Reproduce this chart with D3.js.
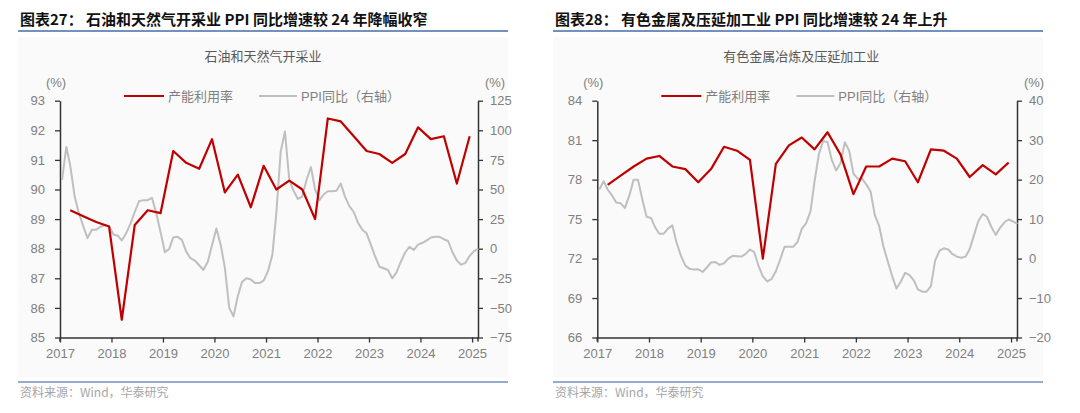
<!DOCTYPE html>
<html>
<head>
<meta charset="utf-8">
<script src="https://cdn.jsdelivr.net/npm/d3@7"></script>
<style>
  body { margin: 0; background: #fff; }
  svg text { font-family: "Liberation Sans", Arial, "Noto Sans CJK SC", sans-serif; }
</style>
</head>
<body>
<svg id="chart" width="1080" height="413"></svg>
<script>
// categories: monthly PPI Jan 2017 - Feb 2025, quarterly utilisation 2017Q1 - 2024Q4
const months = d3.timeMonth.range(new Date(2017, 0, 1), new Date(2025, 2, 1)).map(d => d3.timeDay.offset(d, 14));
const quarters = d3.range(2017, 2025).flatMap(y => [2, 5, 8, 11].map(m => new Date(y, m, 15)));
const yearTicks = d3.range(2017, 2026);

// 石油和天然气开采业
const oilUtil = [
  89.3, 89.1, 88.9, 88.75,
  85.6, 88.8, 89.3, 89.2,
  91.3, 90.9, 90.7, 91.7,
  89.9, 90.5, 89.4, 90.8,
  90.0, 90.3, 90.0, 89.0,
  92.4, 92.3, 91.8, 91.3,
  91.2, 90.9, 91.2, 92.1,
  91.7, 91.8, 90.2, 91.8
];
const oilPPI = [
  58, 86, 70, 44, 30, 19, 9, 16, 16, 18.5, 20, 19,
  12, 11, 7, 13, 21, 31, 40, 41, 41, 43, 30, 14,
  -3, 0, 9.5, 10, 7.5, -2.5, -8, -10, -14, -18, -11, 3,
  17, 3, -16, -50, -57, -40, -28, -25, -26, -29, -29, -27,
  -19, -5, 30, 82, 99, 58, 49, 42, 44, 58, 69, 50,
  41, 46, 48.5, 48.5, 49, 55, 44, 36, 31, 22, 16, 13,
  3, -7, -15, -16.5, -18, -25, -20, -11, -3, 1.5, -1, 3.5,
  5, 7, 9.5, 10, 10, 8, 6.5, -3, -10, -13.5, -12, -6,
  -2, 0
];

// 有色金属冶炼及压延加工业
const metalUtil = [
  77.6, 78.3, 79.0, 79.6,
  79.8, 79.0, 78.8, 77.8,
  78.8, 80.5, 80.2, 79.5,
  72.0, 79.2, 80.6, 81.2,
  80.3, 81.6, 79.9, 76.9,
  79.0, 79.0, 79.6, 79.4,
  77.8, 80.3, 80.2, 79.6,
  78.2, 79.1, 78.4, 79.3
];
const metalPPI = [
  17.5, 19.6, 17.5, 16, 14.2, 14, 12.8, 16, 20, 20, 15, 10.6,
  10.3, 7.8, 6.3, 6.3, 7.6, 8.4, 4, 0.7, -1.8, -2.6, -2.8, -2.7,
  -3.4, -2.2, -1, -0.9, -1.6, -1.2, 0, 0.7, 0.6, 0.5, 1.2, 2.3,
  1.6, -2, -4.5, -5.8, -5.2, -3.2, -0.3, 3, 3, 3, 4.2, 7.5,
  9, 12, 19.5, 26.5, 29.8, 29.5, 25, 22.3, 24.2, 29.5, 27.3, 21.5,
  20.2, 20.2, 18.8, 17, 11, 8.2, 3, -0.8, -4.5, -7.6, -5.8, -3.6,
  -4.2, -5.6, -7.8, -8.4, -8.4, -7, -0.5, 2, 2.6, 2.3, 1.1, 0.5,
  0.2, 0.5, 2.4, 6, 9.5, 11.3, 10.6, 8, 6, 7.8, 9.2, 9.9,
  9.4, 8.8
];

const oilLeftTicks = d3.range(85, 94, 1);
const oilRightTicks = d3.range(-75, 126, 25);
const metalLeftTicks = d3.range(66, 85, 3);
const metalRightTicks = d3.range(-20, 41, 10);

const svg = d3.select('#chart');

const RED = '#c00000';
const GREY = '#bfbfbf';
const LABEL = '#7f7f7f';
const RULE = '#7391bf';

function drawPanel(o) {
  const g = svg.append('g');
  const top = 100.7, bottom = 337.5;

  const x = d3.scaleTime()
    .domain([new Date(2017, 0, 1), new Date(2025, 1, 12)])
    .range([o.left, o.right]);
  const yL = d3.scaleLinear().domain(d3.extent(o.leftTicks)).range([bottom, top]);
  const yR = d3.scaleLinear().domain(d3.extent(o.rightTicks)).range([bottom, top]);

  // light panel
  g.append('rect')
    .attr('x', o.boxL).attr('y', 37)
    .attr('width', 490).attr('height', 340)
    .attr('fill', '#fafafa')

  // Title + rules
  g.append('text')
    .attr('x', o.boxL + 2).attr('y', 25)
    .style('font-family', '"Noto Sans CJK SC", sans-serif')
    .style('font-weight', 700)
    .style('font-size', '15px')
    .attr('fill', '#111')
    .text(o.title)

  g.append('line')
    .attr('x1', o.boxL).attr('x2', o.boxL + 490)
    .attr('y1', 31).attr('y2', 31)
    .attr('stroke', RULE).attr('stroke-width', 2)

  g.append('line')
    .attr('x1', o.boxL).attr('x2', o.boxL + 490)
    .attr('y1', 382).attr('y2', 382)
    .attr('stroke', RULE).attr('stroke-width', 1.5)

  g.append('text')
    .attr('x', o.boxL + 2).attr('y', 397)
    .style('font-family', '"Noto Sans CJK SC", sans-serif')
    .style('font-size', '12px')
    .attr('fill', '#a6a6a6')
    .text('资料来源：Wind，华泰研究')

  // Subtitle
  g.append('text')
    .attr('x', (o.left + o.right) / 2 - 6).attr('y', 61)
    .attr('text-anchor', 'middle')
    .style('font-family', '"Noto Sans CJK SC", sans-serif')
    .style('font-size', '13px')
    .attr('fill', '#595959')
    .text(o.subtitle)

  // unit labels
  g.append('text')
    .attr('x', o.left - 4).attr('y', 87)
    .attr('text-anchor', 'middle')
    .style('font-size', '13px')
    .attr('fill', LABEL)
    .text('(%)')
  g.append('text')
    .attr('x', o.right + 17).attr('y', 87)
    .attr('text-anchor', 'middle')
    .style('font-size', '13px')
    .attr('fill', LABEL)
    .text('(%)')

  // Legend
  const lg = g.append('g').attr('transform', `translate(${o.left}, 96)`);
  lg.append('line').attr('x1', 64).attr('x2', 104).attr('stroke', RED).attr('stroke-width', 2.2)
  lg.append('text').attr('x', 108).attr('y', 4.5)
    .style('font-family', '"Noto Sans CJK SC", sans-serif')
    .style('font-size', '13px').attr('fill', LABEL)
    .text('产能利用率')
  lg.append('line').attr('x1', 199).attr('x2', 237).attr('stroke', GREY).attr('stroke-width', 2)
  lg.append('text').attr('x', 241).attr('y', 4.5)
    .style('font-size', '13px').attr('fill', LABEL)
    .text('PPI同比（右轴）')

  // Axes
  const axL = g.append('g')
    .attr('transform', `translate(${o.left},0)`)
    .call(d3.axisLeft(yL).tickValues(o.leftTicks).tickSize(5).tickSizeOuter(0).tickPadding(10))
  const axR = g.append('g')
    .attr('transform', `translate(${o.right},0)`)
    .call(d3.axisRight(yR).tickValues(o.rightTicks).tickSize(5).tickSizeOuter(0).tickPadding(7))
  const axX = g.append('g')
    .attr('transform', `translate(0,${bottom})`)
    .call(d3.axisBottom(x)
      .tickValues(yearTicks.map(yr => new Date(yr, 0, 1)))
      .tickFormat(d3.timeFormat('%Y'))
      .tickSize(5).tickSizeOuter(0).tickPadding(6))

  ;[axL, axR, axX].forEach(ax => {
    ax.select('.domain').attr('stroke', '#333').attr('stroke-width', 1.5)
    ax.selectAll('.tick line').attr('stroke', '#333').attr('stroke-width', 1.3)
    ax.selectAll('.tick text')
      .attr('fill', LABEL)
      .style('font-size', '13px')
  })
  // y axes run a touch below the x axis
  ;[o.left, o.right].forEach(px => {
    g.append('line')
      .attr('x1', px).attr('x2', px)
      .attr('y1', bottom).attr('y2', bottom + 4)
      .attr('stroke', '#333').attr('stroke-width', 1.5)
  })

  // Lines
  g.append('path')
    .datum(o.ppi.map((v, i) => [months[i], v]))
    .attr('fill', 'none')
    .attr('stroke', GREY)
    .attr('stroke-width', 2)
    .attr('stroke-linejoin', 'round')
    .attr('d', d3.line().x(d => x(d[0])).y(d => yR(d[1])))

  g.append('path')
    .datum(o.util.map((v, i) => [quarters[i], v]))
    .attr('fill', 'none')
    .attr('stroke', RED)
    .attr('stroke-width', 2.2)
    .attr('stroke-linejoin', 'round')
    .attr('d', d3.line().x(d => x(d[0])).y(d => yL(d[1])))
}

drawPanel({
  boxL: 18, left: 60, right: 478,
  title: '图表27：  石油和天然气开采业 PPI 同比增速较 24 年降幅收窄',
  subtitle: '石油和天然气开采业',
  util: oilUtil, ppi: oilPPI,
  leftTicks: oilLeftTicks, rightTicks: oilRightTicks
})

drawPanel({
  boxL: 553, left: 597.3, right: 1017,
  title: '图表28：  有色金属及压延加工业 PPI 同比增速较 24 年上升',
  subtitle: '有色金属冶炼及压延加工业',
  util: metalUtil, ppi: metalPPI,
  leftTicks: metalLeftTicks, rightTicks: metalRightTicks
})
</script>
</body>
</html>
